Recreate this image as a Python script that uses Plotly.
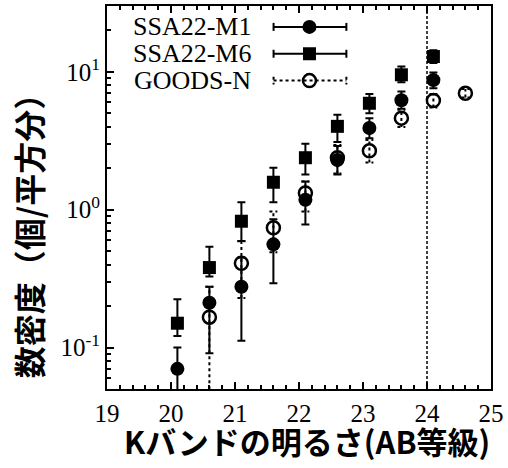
import plotly.graph_objects as go

# K-band number counts (per arcmin^2) in 0.5 mag bins
mag_ssa = [20.1, 20.6, 21.1, 21.6, 22.1, 22.6, 23.1, 23.6, 24.1]
m1 = [0.070, 0.211, 0.276, 0.560, 1.18, 2.29, 3.91, 6.22, 8.70]
m1_lo = [0.005, 0.091, 0.112, 0.292, 0.78, 1.80, 3.30, 5.40, 7.60]
m1_hi = [0.100, 0.276, 0.450, 0.850, 1.60, 2.90, 4.60, 7.20, 9.90]

m6 = [0.150, 0.380, 0.824, 1.58, 2.38, 4.02, 5.91, 9.51, 12.9]
m6_lo = [0.121, 0.327, 0.592, 1.13, 1.80, 3.10, 5.00, 8.40, 11.6]
m6_hi = [0.224, 0.538, 1.13, 2.01, 3.01, 4.87, 6.90, 10.9, 14.3]

mag_goods = [20.6, 21.1, 21.6, 22.1, 22.6, 23.1, 23.6, 24.1, 24.6]
goods = [0.166, 0.409, 0.738, 1.32, 2.38, 2.67, 4.61, 6.19, 6.98]
goods_lo = [0.010, 0.229, 0.490, 0.97, 1.83, 2.20, 3.97, 5.50, 6.50]
goods_hi = [0.276, 0.590, 0.970, 1.60, 2.94, 3.20, 5.30, 6.90, 7.50]

limit_mag = 24.0
x_ticks = [19, 20, 21, 22, 23, 24, 25]
y_ticks = [0.1, 1, 10]
y_ticktext = ["10<sup>-1</sup>", "10<sup>0</sup>", "10<sup>1</sup>"]
y_minor = [m * 10.0 ** e for e in (-2, -1, 0, 1) for m in range(2, 10)]

legend_names = ["SSA22-M1", "SSA22-M6", "GOODS-N"]

SERIF = "Liberation Serif, Times New Roman, serif"
CJK = "Noto Sans CJK JP"

fig = go.Figure()


def asym(vals, lo, hi):
    plus = [h - v for v, h in zip(vals, hi)]
    minus = [v - l for v, l in zip(vals, lo)]
    return plus, minus


p1, n1 = asym(m1, m1_lo, m1_hi)
p6, n6 = asym(m6, m6_lo, m6_hi)

# GOODS-N error bars drawn as dashed segments with caps
cap = 0.062
ex, ey = [], []
for x, lo, hi in zip(mag_goods, goods_lo, goods_hi):
    ex += [x, x, None, x - cap, x + cap, None, x - cap, x + cap, None]
    ey += [lo, hi, None, lo, lo, None, hi, hi, None]
fig.add_trace(go.Scatter(x=ex, y=ey, mode="lines", showlegend=False,
                         line=dict(color="black", width=2, dash="3px,3px"),
                         hoverinfo="skip"))
fig.add_trace(go.Scatter(
    x=mag_goods, y=goods, mode="markers", name=legend_names[2], showlegend=False,
    marker=dict(symbol="circle-open", size=13, color="black",
                line=dict(width=2.5, color="black"))))

fig.add_trace(go.Scatter(
    x=mag_ssa, y=m1, mode="markers", name=legend_names[0], showlegend=False,
    marker=dict(symbol="circle", size=14, color="black"),
    error_y=dict(type="data", symmetric=False, array=p1, arrayminus=n1,
                 color="black", thickness=2, width=4)))

fig.add_trace(go.Scatter(
    x=mag_ssa, y=m6, mode="markers", name=legend_names[1], showlegend=False,
    marker=dict(symbol="square", size=13, color="black"),
    error_y=dict(type="data", symmetric=False, array=p6, arrayminus=n6,
                 color="black", thickness=2, width=4)))

# magnitude limit
fig.add_shape(type="line", xref="x", yref="paper", x0=limit_mag, x1=limit_mag,
              y0=0, y1=1, line=dict(color="black", width=1.5, dash="3px,2px"))

# hand-built key in pixel-like overlay coordinates
L, R, T, B = 107, 492, 4, 389
rows = [25, 52, 79]
sx0, sx1, smid = 274, 347, 310
styles = [
    dict(symbol="circle", size=14, color="black"),
    dict(symbol="square", size=13, color="black"),
    dict(symbol="circle-open", size=13, color="black", line=dict(width=2.5, color="black")),
]
dashes = ["solid", "solid", "3px,3px"]
for name, yrow, mk, dsh in zip(legend_names, rows, styles, dashes):
    fig.add_trace(go.Scatter(
        x=[sx0, sx1, None, sx0, sx0, None, sx1, sx1],
        y=[yrow, yrow, None, yrow - 4, yrow + 4, None, yrow - 4, yrow + 4],
        mode="lines", xaxis="x2", yaxis="y2", showlegend=False, hoverinfo="skip",
        line=dict(color="black", width=2, dash=dsh)))
    fig.add_trace(go.Scatter(
        x=[smid], y=[yrow], mode="markers", xaxis="x2", yaxis="y2",
        showlegend=False, hoverinfo="skip", marker=mk))
    fig.add_annotation(x=253, y=yrow, xref="x2", yref="y2", text=name,
                       showarrow=False, xanchor="right", yanchor="middle",
                       font=dict(family=SERIF, size=26, color="black"))

# axis titles
fig.add_annotation(x=0, y=0.42, xref="paper", yref="paper", xshift=-79,
                   text="数密度（個/平方分）", textangle=-90, showarrow=False,
                   xanchor="center", yanchor="middle",
                   font=dict(family=CJK, size=32, color="black", weight="bold"))
fig.add_annotation(x=0.52, y=0, xref="paper", yref="paper", yshift=-51,
                   text="Kバンドの明るさ(AB等級)", showarrow=False,
                   xanchor="center", yanchor="middle",
                   font=dict(family=CJK, size=31, color="black", weight="bold"))

fig.update_layout(
    width=508, height=468,
    margin=dict(l=L, r=508 - R, t=T, b=468 - B),
    plot_bgcolor="white", paper_bgcolor="white",
    showlegend=False,
    xaxis=dict(range=[19, 25], tickvals=x_ticks, ticks="inside", ticklen=7,
               tickwidth=1.5, tickcolor="black", showline=True, linewidth=2,
               linecolor="black", mirror="ticks", showgrid=False, zeroline=False,
               tickfont=dict(family=SERIF, size=25, color="black"),
               ticklabelstandoff=1,
               minor=dict(dtick=0.2, ticks="inside", ticklen=4, tickwidth=1.5,
                          tickcolor="black", showgrid=False)),
    yaxis=dict(type="log", range=[-1.30103, 1.4771], tickvals=y_ticks,
               ticktext=y_ticktext, ticks="inside", ticklen=7, tickwidth=1.5,
               tickcolor="black", showline=True, linewidth=2, linecolor="black",
               mirror=True, showgrid=False, zeroline=False,
               tickfont=dict(family=SERIF, size=25, color="black"),
               ticklabelstandoff=0,
               minor=dict(tickmode="array", tickvals=y_minor, ticks="inside",
                          ticklen=4, tickwidth=1.5, tickcolor="black",
                          showgrid=False)),
    xaxis2=dict(overlaying="x", anchor="y2", range=[L, R], visible=False,
                fixedrange=True),
    yaxis2=dict(overlaying="y", anchor="x2", range=[B, T], visible=False,
                fixedrange=True),
)

fig.write_html("out.html")
